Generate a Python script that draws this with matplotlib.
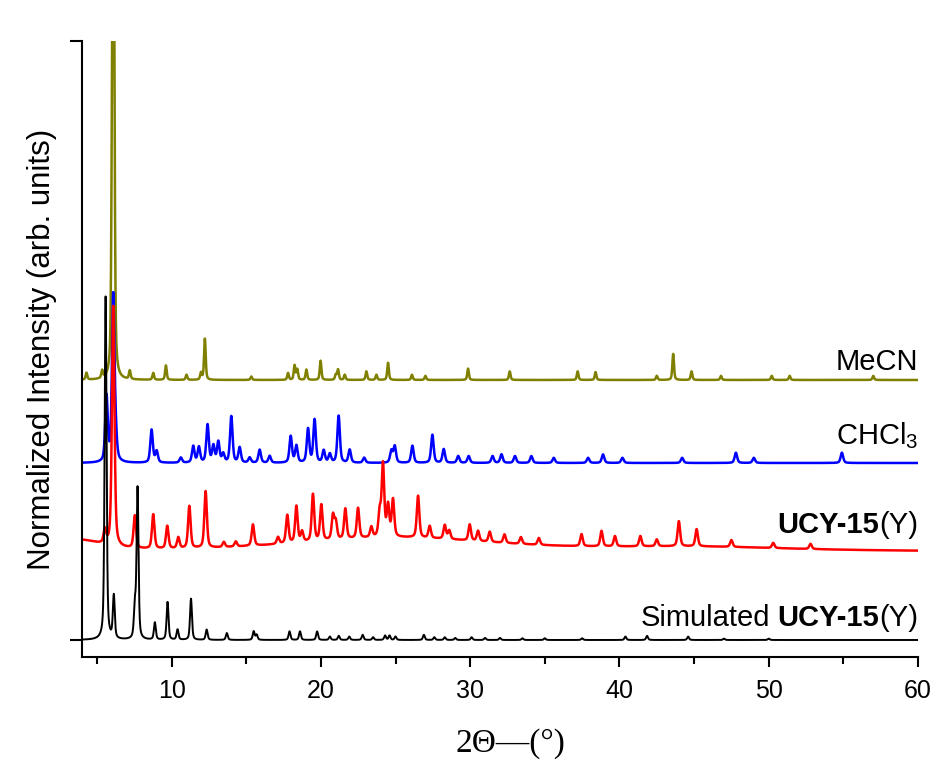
import numpy as np
import matplotlib
matplotlib.use('Agg')
import matplotlib.pyplot as plt

plt.rcParams['font.family'] = ['Liberation Sans', 'DejaVu Sans']
plt.rcParams['mathtext.fontset'] = 'custom'
plt.rcParams['mathtext.rm'] = 'Liberation Sans'
plt.rcParams['mathtext.default'] = 'regular'

# peak tables: 2theta position, height (simulated max = 100)
sim_pos = [5.58, 6.13, 7.54, 7.72, 8.88, 9.73, 10.4, 11.3, 12.35, 13.7, 15.5, 15.7,
           17.9, 18.6, 19.75, 20.6, 21.2, 21.9, 22.8, 23.5, 24.3, 24.6, 25.0, 26.9,
           27.6, 28.3, 29.0, 30.1, 31.0, 32.0, 33.5, 35.0, 37.5, 40.4, 41.85, 44.6, 47.0, 50.0]
sim_hgt = [100, 12.5, 9, 44, 5, 11, 3, 12, 3, 2, 2.5, 1.5,
           2.5, 2.5, 2.5, 1, 1.2, 1, 1.5, 0.8, 1.3, 1.3, 1, 1.5,
           0.8, 0.8, 0.6, 0.8, 0.6, 0.6, 0.5, 0.5, 0.5, 1.0, 1.2, 1.0, 0.4, 0.4]

red_pos = [5.53, 6.09, 7.54, 8.77, 9.71, 10.45, 11.19, 12.28, 13.5, 14.3, 15.45, 17.13,
           17.75, 18.36, 18.74, 19.47, 20.03, 20.81, 21.0, 21.64, 22.49, 23.38, 23.94, 24.16,
           24.5, 24.83, 26.51, 27.29, 28.3, 28.6, 29.97, 30.53, 31.31, 32.3, 33.4, 34.6,
           37.46, 38.8, 39.7, 41.4, 42.5, 43.98, 45.17, 47.5, 50.3, 52.8]
red_hgt = [4, 70, 9.5, 10, 6.6, 3.2, 12.3, 16.5, 1.5, 1.5, 6.2, 2,
           8.2, 10.6, 3, 13.7, 10.4, 7, 5, 8.8, 8.8, 3, 7, 21,
           9, 10.8, 12.2, 3.5, 4, 2.5, 4.7, 3, 3, 2.5, 2, 2,
           3.5, 4.5, 3, 3, 2, 7.3, 5, 2, 1.5, 1.5]
red_bg_pos = [3.5, 25.0, 45.0]
red_bg_hgt = [3.3, 4.0, 1.2]
red_bg_wid = [4.0, 16.0, 15.0]

blue_pos = [5.64, 6.09, 6.25, 8.66, 9.0, 10.62, 11.45, 11.83, 12.41, 12.8, 13.13, 13.46,
            14.0, 14.56, 15.23, 15.9, 16.57, 17.98, 18.36, 19.14, 19.58, 20.19, 20.6, 21.19,
            21.93, 22.9, 24.72, 24.95, 26.13, 27.47, 28.23, 29.2, 29.9, 31.5, 32.1, 33.0,
            34.1, 35.6, 37.9, 38.9, 40.2, 44.2, 47.8, 49.0, 54.9]
blue_hgt = [19, 48, 6, 9.6, 3.3, 1.5, 4.8, 4.5, 11, 4.8, 6, 2.5,
            13.5, 4.4, 1.5, 3.8, 2, 7.7, 4.9, 9.8, 12.5, 3.5, 2.5, 13.7,
            3.8, 1.5, 3.5, 4.8, 5, 8.2, 4, 2, 2, 2, 2.5, 2,
            2, 1.5, 1.5, 2.5, 1.5, 1.5, 3, 1.5, 3]

olive_pos = [4.3, 5.35, 6.02, 6.1, 6.15, 7.2, 8.77, 9.62, 11.0, 11.97, 12.23, 15.34,
             17.8, 18.24, 18.42, 19.03, 19.98, 21.0, 21.15, 21.6, 23.05, 23.72, 24.5, 26.1,
             27.0, 29.86, 32.65, 37.2, 38.4, 42.5, 43.6, 44.83, 46.8, 50.2, 51.4, 57.0]
olive_hgt = [2, 2.2, 55, 115, 45, 2.5, 2, 4.2, 1.5, 2, 12, 1,
             2, 4.2, 3, 3, 5.6, 1.5, 3, 1.5, 2.5, 1.5, 5, 1.5,
             1.2, 3.3, 2.5, 2.5, 2.3, 1.2, 7.6, 2.5, 1.2, 1.2, 1.2, 1.2]

offsets = {'sim': 0.0, 'red': 25.8, 'blue': 51.6, 'olive': 75.8}
fwhm = {'sim': 0.15, 'red': 0.2, 'blue': 0.2, 'olive': 0.13}

x = np.linspace(4, 60, 5601)


def profile(pos, hgt, wid):
    y = np.zeros_like(x)
    wid = np.broadcast_to(wid, len(pos))
    for p, h, w in zip(pos, hgt, wid):
        d = (x - p) / w
        y += h * (0.5 * np.exp(-4 * np.log(2) * d ** 2) + 0.5 / (1 + 4 * d ** 2))
    return y


y_sim = profile(sim_pos, sim_hgt, fwhm['sim']) + offsets['sim']
y_red = (profile(red_pos, red_hgt, fwhm['red'])
         + profile(red_bg_pos, red_bg_hgt, red_bg_wid) + offsets['red'])
y_blue = profile(blue_pos, blue_hgt, fwhm['blue']) + offsets['blue']
y_olive = profile(olive_pos, olive_hgt, fwhm['olive']) + offsets['olive']

fig = plt.figure(figsize=(9.47, 7.67), dpi=100)
ax = fig.add_axes([0.0866, 0.1434, 0.8828, 0.8031])

ax.plot(x, y_olive, color='#808000', lw=1.8)
ax.plot(x, y_blue, color='#0000FF', lw=1.8)
ax.plot(x, y_red, color='#FF0000', lw=1.8)
ax.plot(x, y_sim, color='black', lw=1.4)

ytop = 174.6
ax.set_xlim(4, 60)
ax.set_ylim(-4.96, ytop)
ax.set_xticks([10, 20, 30, 40, 50, 60])
ax.set_xticks([5, 15, 25, 35, 45, 55], minor=True)
ax.set_yticks([0, ytop])
ax.set_yticklabels([])
ax.tick_params(axis='x', which='major', length=7.5, width=1.5, labelsize=18, pad=8)
ax.tick_params(axis='x', which='minor', length=4.8, width=1.5)
ax.tick_params(axis='y', which='major', length=8.5, width=1.5)
for s in ['top', 'right']:
    ax.spines[s].set_visible(False)
for s in ['left', 'bottom']:
    ax.spines[s].set_linewidth(1.5)

ax.set_xlabel('2\u0398\u2014(\u00b0)', family='Liberation Serif', fontsize=24)
ax.xaxis.set_label_coords(0.512, -0.115)
ax.set_ylabel('Normalized Intensity (arb. units)', fontsize=22.5, labelpad=6)

fs = 21
ax.text(60, 78.7, 'MeCN', ha='right', va='baseline', fontsize=fs)
ax.text(60, 57.1, 'CHCl$_3$', ha='right', va='baseline', fontsize=fs)

t1 = ax.text(60, 31.2, '(Y)', ha='right', va='baseline', fontsize=fs)
ax.annotate('UCY-15', xy=(0, 0), xycoords=t1, ha='right', va='bottom',
            fontsize=fs, fontweight='bold')

t2 = ax.text(60, 4.1, '(Y)', ha='right', va='baseline', fontsize=fs)
t3 = ax.annotate('UCY-15', xy=(0, 0), xycoords=t2, ha='right', va='bottom',
                 fontsize=fs, fontweight='bold')
ax.annotate('Simulated', xy=(0, 0), xycoords=t3, ha='right', va='bottom',
            fontsize=fs, xytext=(-5, 0), textcoords='offset points')

fig.savefig('out.png', dpi=100)
